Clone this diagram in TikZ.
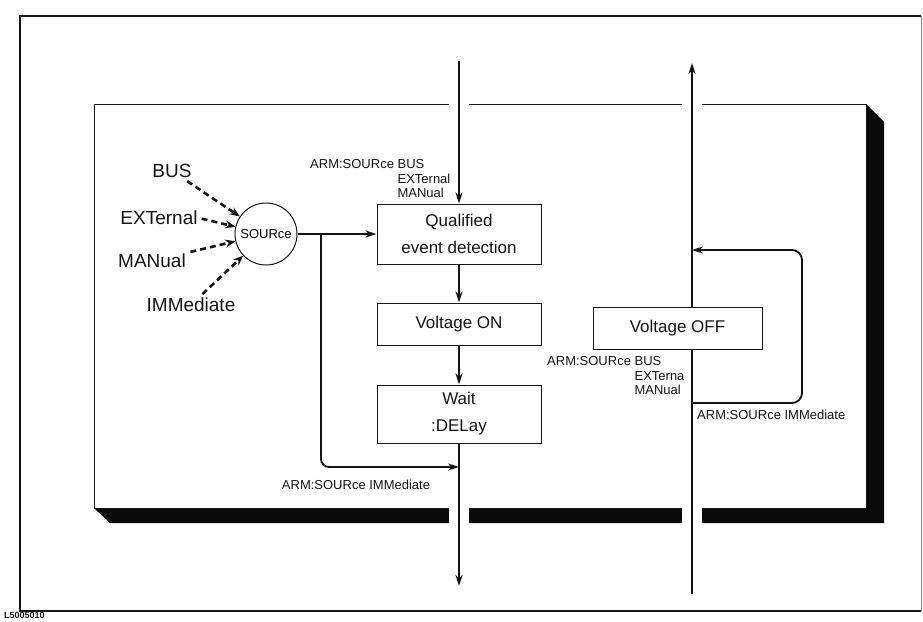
\documentclass[tikz,border=0pt]{standalone}
\usepackage{fontspec}
\setmainfont{Liberation Sans}
\usepackage{tikz}
\usetikzlibrary{arrows.meta,calc,positioning}
\definecolor{trigink}{HTML}{141414}
\definecolor{trigshade}{HTML}{0A0A0A}
\definecolor{trigframe}{HTML}{8A8A8A}
\newcommand{\armpad}{\phantom{ARM:SOURce\ }}

\begin{document}
\begin{tikzpicture}[
    x=1pt,
    y=-1pt,
    >=Stealth,
    flow/.style={-{Stealth[length=11pt,width=7pt]}, line width=1.8pt, draw=trigink},
    feed/.style={line width=1.8pt, draw=trigink},
    pick/.style={-{Stealth[length=10pt,width=8pt]}, line width=2.6pt, draw=trigink, dash pattern=on 6pt off 4pt},
    stagebox/.style={draw=trigink, fill=white, line width=1pt, minimum width=164pt, inner sep=0pt, align=center, font=\fontsize{17}{27}\selectfont, text=trigink},
    cmdtext/.style={font=\fontsize{13}{14.5}\selectfont, text=trigink, inner sep=0pt, align=left},
    srctext/.style={font=\fontsize{19}{22}\selectfont, text=trigink, inner sep=1pt}
  ]
    \useasboundingbox (0,0) rectangle (923,621);

    % outer frame of the figure
    \draw[trigink, line width=1.2pt] (921,16) -- (20,16) -- (20,611) -- (921,611);
    \draw[trigframe, line width=0.5pt] (921,16) -- (921,611);
    \node[anchor=north west, inner sep=0pt, font=\fontsize{9}{9}\selectfont\bfseries, text=trigink] (figid) at (4,612) {L5005010};

    % 3-D panel with its shadow
    \fill[trigshade] (94,508) -- (110,523) -- (884,523) -- (884,122) -- (866,104) -- (866,508) -- cycle;
    \draw[trigink, line width=1pt, fill=white] (94,104) rectangle (866,508);
    \foreach \x in {459,692} {
      \fill[white] (\x-10,100) rectangle (\x+10,527);
    }

    \coordinate (downtop) at (459,61);
    \coordinate (downend) at (459,586);
    \coordinate (uptop) at (692,63);
    \coordinate (upbot) at (692,594);
    \coordinate (branch) at (321,234);
    \coordinate (merge) at (459,467);
    \coordinate (loopout) at (692,403);
    \coordinate (loopin) at (692,250);

    % trigger source selection
    \node[circle, draw=trigink, fill=white, line width=1pt, minimum size=62pt, inner sep=0pt, font=\fontsize{13}{13}\selectfont] (src) at (266,234) {SOURce};
    \node[srctext] (bus) at (172,171) {BUS};
    \node[srctext] (ext) at (159,218) {EXTernal};
    \node[srctext] (man) at (152,261) {MANual};
    \node[srctext] (imm) at (191,305) {IMMediate};

    \draw[pick, shorten <=4pt] (bus) -- (src);
    \draw[pick, shorten <=3pt] (ext.east) -- (src);
    \draw[pick, shorten <=4pt] (man) -- (src);
    \draw[pick, shorten <=4pt] (imm) -- (src);

    % trigger sequence
    \node[stagebox, minimum height=60pt] (qual) at (459,234) {Qualified\\event detection};
    \node[stagebox, minimum height=42pt, below=38pt of qual] (von) {Voltage ON};
    \node[stagebox, minimum height=58pt, below=39pt of von] (wait) {Wait\\:DELay};
    \node[stagebox, minimum width=169pt, minimum height=42pt] (voff) at (677.5,328) {Voltage OFF};

    \draw[flow] (downtop) -- (qual);
    \draw[flow] (qual) -- (von);
    \draw[flow] (von) -- (wait);
    \draw[flow] (wait) -- (downend);
    \draw[flow] (src) -- (qual);
    \draw[flow, rounded corners=8pt] (branch) -- (branch |- merge) -- (merge);

    \draw[feed] (upbot) -- (upbot |- voff.south);
    \draw[flow] (uptop |- voff.north) -- (uptop);
    \draw[flow, rounded corners=10pt] (loopout) -- ++(110,0) |- (loopin);

    % command labels
    \node[cmdtext, anchor=north west] (armbus) at (310,159.5) {ARM:SOURce BUS\\\armpad EXTernal\\\armpad MANual};
    \node[cmdtext, anchor=north west] (armoff) at (547,356.5) {ARM:SOURce BUS\\\armpad EXTerna\\\armpad MANual};
    \node[cmdtext, anchor=west] (immoff) at (697,415) {ARM:SOURce IMMediate};
    \node[cmdtext] (immon) at (356,485) {ARM:SOURce IMMediate};

  \end{tikzpicture}
\end{document}
